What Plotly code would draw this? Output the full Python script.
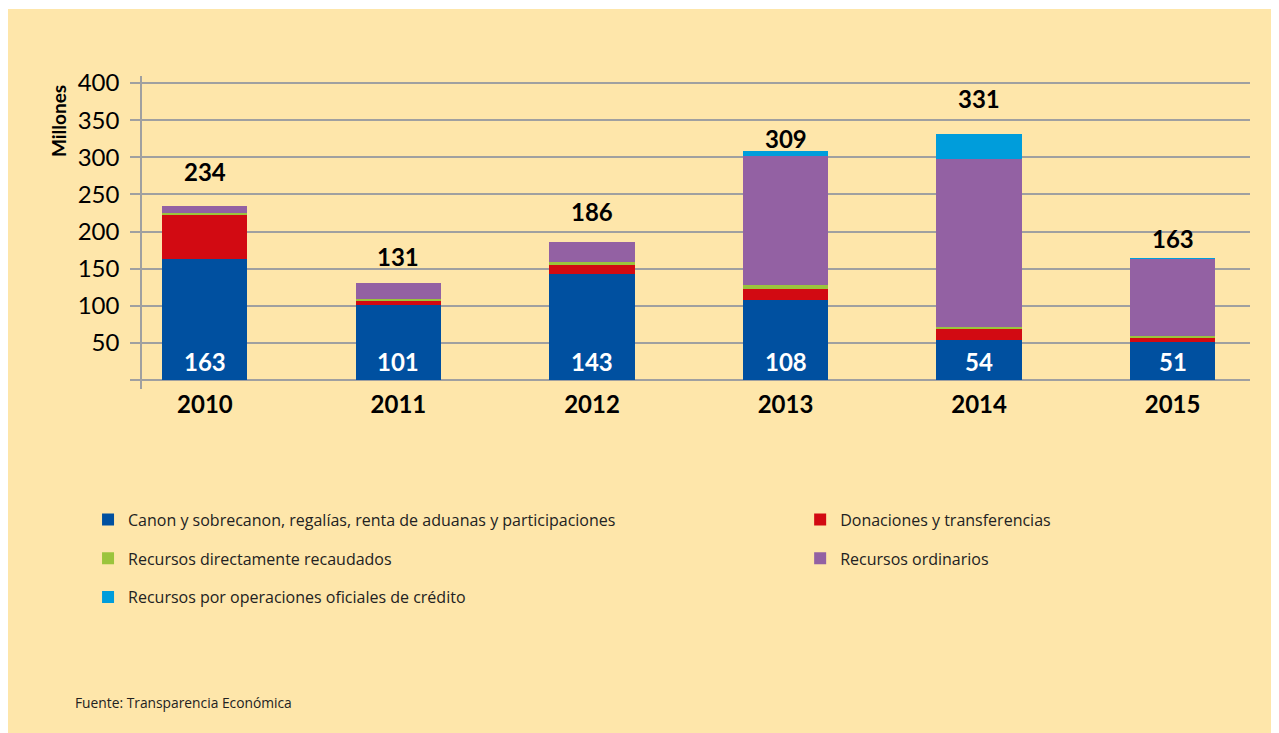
import plotly.graph_objects as go

years = ["2010", "2011", "2012", "2013", "2014", "2015"]
canon = [163, 101, 143, 108, 54, 51]
donaciones = [59, 6, 12, 15, 15, 5]
directos = [3, 1.5, 4, 5, 3, 3.5]
ordinarios = [9, 22.5, 27, 174, 226, 103.5]
credito = [0, 0, 0, 7, 33, 0.4]
totals = [234, 131, 186, 309, 331, 163]
y_ticks = [0, 50, 100, 150, 200, 250, 300, 350, 400]
y_tick_text = ["", "50", "100", "150", "200", "250", "300", "350", "400"]

names = [
    "Canon y sobrecanon, regalías, renta de aduanas y participaciones",
    "Donaciones y transferencias",
    "Recursos directamente recaudados",
    "Recursos ordinarios",
    "Recursos por operaciones oficiales de crédito",
]
series = [canon, donaciones, directos, ordinarios, credito]
colors = ["#0050A0", "#D20A12", "#9BC43C", "#9361A3", "#009DDB"]
legend_ref = ["legend", "legend2", "legend", "legend2", "legend"]

# pixel gap of each total label above its bar (style only)
total_label_shift = [18, 10, 14, -4, 19, 4]

BG = "#FEE6AA"
NUM_FONT = "Lato"
TXT_FONT = "Open Sans"

fig = go.Figure()
for i, (n, s, c, lg) in enumerate(zip(names, series, colors, legend_ref)):
    fig.add_trace(go.Bar(
        x=years, y=s, name=n, marker=dict(color=c, line=dict(width=0)),
        legend=lg, legendgroup=f"g{i}", hoverinfo="y+name",
    ))

# totals above the bars
for i, (t, sh) in enumerate(zip(totals, total_label_shift)):
    fig.add_annotation(x=i, y=t, text=f"<b>{t}</b>", showarrow=False,
                       yanchor="bottom", yshift=sh,
                       font=dict(family=NUM_FONT, size=24, color="#000000"))
# blue segment values inside bars
for i, v in enumerate(canon):
    fig.add_annotation(x=i, y=0, text=f"<b>{v}</b>", showarrow=False,
                       yanchor="bottom", yshift=2,
                       font=dict(family=NUM_FONT, size=24, color="#FFFFFF"))

fig.add_annotation(xref="paper", yref="paper", x=-0.0758, y=0.856,
                   text="<b>Millones</b>", textangle=-90, showarrow=False,
                   xanchor="center", yanchor="middle",
                   font=dict(family=NUM_FONT, size=19, color="#000000"))
fig.add_annotation(xref="paper", yref="paper", x=-0.0627, y=-1.0,
                   text="Fuente: Transparencia Económica", showarrow=False,
                   xanchor="left", yanchor="middle",
                   font=dict(family=TXT_FONT, size=13.8, color="#222222"))

# thin white strip at the very top
fig.add_shape(type="rect", xref="paper", yref="paper",
              x0=-0.2, x1=1.1, y0=1.2141, y1=1.3,
              fillcolor="#FFFFFF", line=dict(width=0), layer="below")

fig.update_layout(
    width=1279, height=733,
    margin=dict(l=134, r=37, t=68, b=352),
    paper_bgcolor=BG, plot_bgcolor="rgba(0,0,0,0)",
    barmode="stack", bargap=0.56,
    showlegend=True,
    legend=dict(x=-0.0487, y=-0.363, xanchor="left", yanchor="top",
                orientation="v", traceorder="grouped", tracegroupgap=15,
                bgcolor="rgba(0,0,0,0)",
                font=dict(family=TXT_FONT, size=16, color="#222222")),
    legend2=dict(x=0.594, y=-0.363, xanchor="left", yanchor="top",
                 orientation="v", traceorder="grouped", tracegroupgap=15,
                 bgcolor="rgba(0,0,0,0)",
                 font=dict(family=TXT_FONT, size=16, color="#222222")),
    xaxis=dict(type="category", range=[-0.325, 5.40], showgrid=False,
               showline=False, ticks="", ticklabelstandoff=-1,
               tickfont=dict(family=NUM_FONT, size=24, color="#000000"),
               tickprefix="<b>", ticksuffix="</b>"),
    yaxis=dict(range=[-12.1, 409.4], tickvals=y_ticks, ticktext=y_tick_text,
               showgrid=True, gridcolor="#A0A0A0", gridwidth=1.5,
               showline=True, linecolor="#A0A0A0", linewidth=1.5,
               ticks="outside", ticklen=10, tickcolor="#A0A0A0", tickwidth=1.5,
               zeroline=False, ticklabelstandoff=6,
               tickfont=dict(family=NUM_FONT, size=24, color="#000000")),
)

fig.write_html("out.html")
